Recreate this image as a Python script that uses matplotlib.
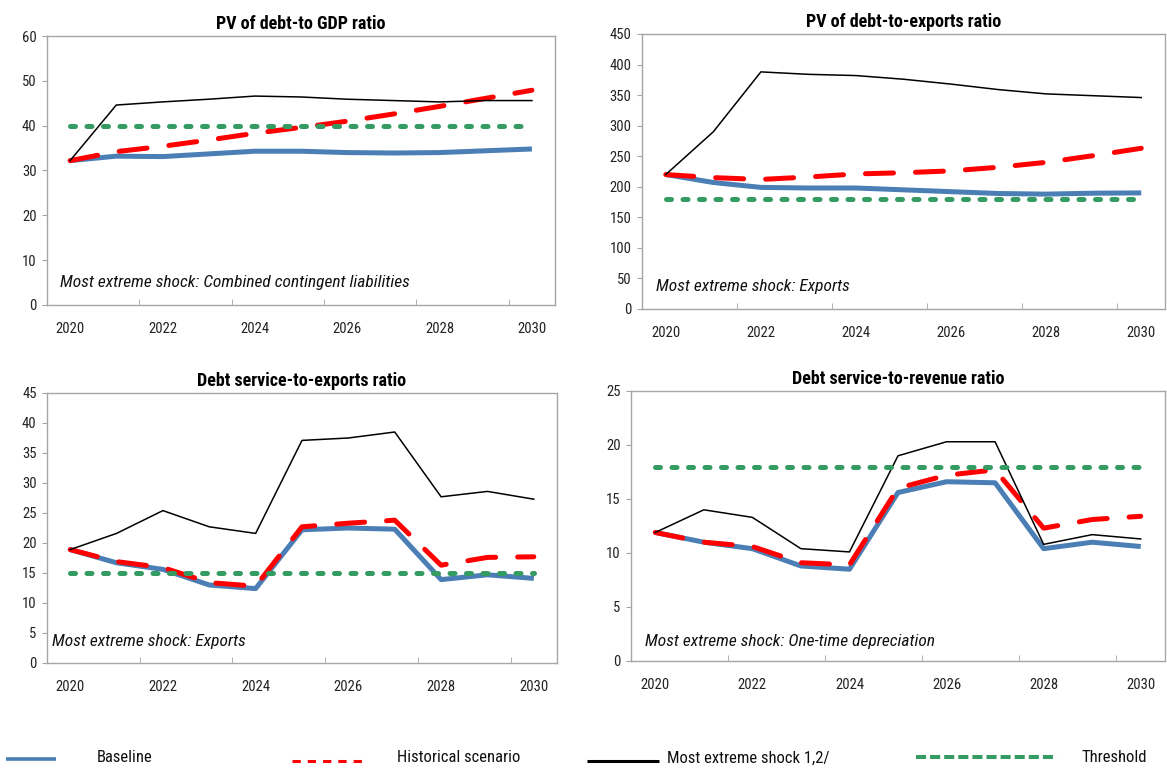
import matplotlib
matplotlib.use("Agg")
import matplotlib.pyplot as plt
from matplotlib import font_manager as fm
from matplotlib.lines import Line2D

# ---------------- data ----------------
years = [2020, 2021, 2022, 2023, 2024, 2025, 2026, 2027, 2028, 2029, 2030]
year_labels = ["2020", "", "2022", "", "2024", "", "2026", "", "2028", "", "2030"]

titles = ["PV of debt-to GDP ratio", "PV of debt-to-exports ratio",
          "Debt service-to-exports ratio", "Debt service-to-revenue ratio"]
notes = ["Most extreme shock: Combined contingent liabilities",
         "Most extreme shock: Exports",
         "Most extreme shock: Exports",
         "Most extreme shock: One-time depreciation"]

gdp_baseline = [32.2, 33.2, 33.1, 33.7, 34.3, 34.3, 34.0, 33.9, 34.0, 34.4, 34.8]
gdp_historical = [32.2, 34.2, 35.4, 36.8, 38.3, 39.6, 41.0, 42.6, 44.3, 46.1, 47.9]
gdp_extreme = [32.2, 44.6, 45.3, 45.9, 46.6, 46.4, 45.9, 45.6, 45.3, 45.6, 45.6]
gdp_threshold = [40] * 11

exp_baseline = [220, 207, 199, 198, 198, 195, 192, 189, 188, 189.5, 190]
exp_historical = [220, 215, 212, 216, 221, 223, 226, 232, 240, 251, 263]
exp_extreme = [220, 290, 388, 384, 382, 376, 368, 359, 352, 349, 346]
exp_threshold = [180] * 11

dse_baseline = [18.9, 16.7, 15.6, 13.0, 12.4, 22.2, 22.5, 22.3, 13.9, 14.7, 14.1]
dse_historical = [18.9, 16.9, 15.9, 13.4, 12.8, 22.7, 23.3, 23.8, 16.3, 17.6, 17.7]
dse_extreme = [18.9, 21.6, 25.4, 22.7, 21.6, 37.1, 37.5, 38.5, 27.7, 28.6, 27.3]
dse_threshold = [15] * 11

dsr_baseline = [11.9, 11.0, 10.4, 8.8, 8.5, 15.6, 16.6, 16.5, 10.4, 11.0, 10.6]
dsr_historical = [11.9, 11.0, 10.6, 9.1, 8.9, 16.0, 17.2, 17.7, 12.3, 13.1, 13.4]
dsr_extreme = [11.9, 14.0, 13.3, 10.4, 10.1, 19.0, 20.3, 20.3, 10.8, 11.7, 11.3]
dsr_threshold = [18] * 11

y_limits = [(0, 60), (0, 450), (0, 45), (0, 25)]
y_steps = [10, 50, 5, 5]

legend_labels = ["Baseline", "Historical scenario", "Most extreme shock 1,2/", "Threshold"]

# ---------------- style ----------------
names = {f.name for f in fm.fontManager.ttflist}
font = "DejaVu Sans"
for cand in ["Liberation Sans Narrow", "Roboto Condensed", "Open Sans Condensed",
             "Noto Sans Condensed", "DejaVu Sans Condensed"]:
    if cand in names:
        font = cand
        break
plt.rcParams["font.family"] = [font, "DejaVu Sans"]

BLUE = "#4A7EB5"
RED = "#FF0000"
GREEN = "#349B62"
SPINE = "#A6A6A6"

styles = {
    "base": dict(color=BLUE, lw=3.6, solid_capstyle="butt", zorder=2),
    "hist": dict(color=RED, lw=3.6, dashes=(5.6, 4.4), dash_capstyle="round", zorder=3),
    "ext": dict(color="black", lw=1.1, zorder=4),
    "thr": dict(color=GREEN, lw=3.6, dashes=(1.0, 2.3), dash_capstyle="round", zorder=5),
}
legend_styles = {
    "base": dict(color=BLUE, lw=2.6, solid_capstyle="butt"),
    "hist": dict(color=RED, lw=2.2, dashes=(2.7, 2.3), dash_capstyle="butt"),
    "ext": dict(color="black", lw=2.2, solid_capstyle="butt"),
    "thr": dict(color=GREEN, lw=2.9, dashes=(2.5, 1.0), dash_capstyle="butt"),
}

W, H = 1167, 773
fig = plt.figure(figsize=(W / 100, H / 100), dpi=100)

boxes_px = [(47, 36, 555, 305), (642, 34, 1165, 309), (47, 393, 557, 663), (631, 391, 1165, 661)]
note_pos = [(0.026, 0.082), (0.027, 0.08), (0.01, 0.081), (0.026, 0.074)]

series = [
    (gdp_baseline, gdp_historical, gdp_extreme, gdp_threshold),
    (exp_baseline, exp_historical, exp_extreme, exp_threshold),
    (dse_baseline, dse_historical, dse_extreme, dse_threshold),
    (dsr_baseline, dsr_historical, dsr_extreme, dsr_threshold),
]

x = list(range(len(years)))
for i, (l, t, r, b) in enumerate(boxes_px):
    ax = fig.add_axes([l / W, 1 - b / H, (r - l) / W, (b - t) / H])
    base, hist, ext, thr = series[i]
    ax.plot(x, base, **styles["base"])
    ax.plot(x, hist, **styles["hist"])
    ax.plot(x, ext, **styles["ext"])
    ax.plot(x, thr, **styles["thr"])

    lo, hi = y_limits[i]
    ax.set_ylim(lo, hi)
    ax.set_yticks(range(lo, hi + 1, y_steps[i]))
    ax.set_xlim(-0.5, 10.5)
    ax.set_xticks(x)
    ax.set_xticklabels(year_labels)
    ax.set_xticks([1.5, 3.5, 5.5, 7.5, 9.5], minor=True)
    ax.tick_params(axis="x", which="major", length=0, pad=12, labelsize=10.5, colors="#222222")
    ax.tick_params(axis="x", which="minor", length=4, direction="in", color=SPINE)
    ax.tick_params(axis="y", which="major", length=3.5, direction="out", pad=4,
                   labelsize=10.5, color=SPINE, labelcolor="#222222")
    for s in ax.spines.values():
        s.set_color(SPINE)
        s.set_linewidth(1.0)
    ax.set_title(titles[i], fontsize=13, fontweight="bold", pad=5)
    ax.text(note_pos[i][0], note_pos[i][1], notes[i], transform=ax.transAxes,
            fontsize=12.5, style="italic", va="center", ha="left", color="#111111")

# ---------------- legend ----------------
legend_items = [
    ("base", 6, 56, 759, 97),
    ("hist", 292, 368, 761, 397),
    ("ext", 587, 659, 761, 667),
    ("thr", 916, 1057, 757, 1081),
]
for (key, x0, x1, yy, tx), lab in zip(legend_items, legend_labels):
    fig.add_artist(Line2D([x0 / W, x1 / W], [1 - yy / H, 1 - yy / H],
                          transform=fig.transFigure, **legend_styles[key]))
    fig.text(tx / W, 1 - 758 / H, lab, fontsize=12, va="center", ha="left", color="#111111")

fig.savefig("out.png", dpi=100)
